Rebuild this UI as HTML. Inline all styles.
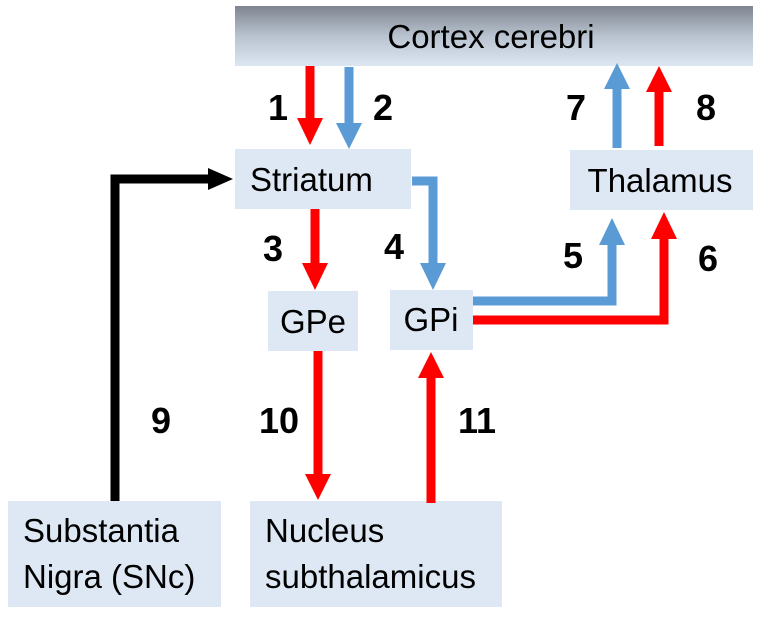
<!DOCTYPE html>
<html><head><style>body{margin:0;background:#fff}</style></head><body>
<svg width="758" height="621" viewBox="0 0 758 621" xmlns="http://www.w3.org/2000/svg" font-family="Liberation Sans, sans-serif">
<defs><linearGradient id="g" x1="0" y1="0" x2="0" y2="1"><stop offset="0" stop-color="#7e8590"/><stop offset="0.5" stop-color="#b9c3cf"/><stop offset="1" stop-color="#dde7f3"/></linearGradient></defs>
<rect x="235" y="6" width="518" height="60" fill="url(#g)"/>
<rect x="235" y="149" width="176" height="60" fill="#dde8f4"/>
<rect x="570" y="150" width="183" height="60" fill="#dde8f4"/>
<rect x="268" y="291" width="90" height="60" fill="#dde8f4"/>
<rect x="390" y="290" width="83" height="60" fill="#dde8f4"/>
<rect x="8" y="501" width="213" height="106" fill="#dde8f4"/>
<rect x="250" y="501" width="252" height="106" fill="#dde8f4"/>
<g font-size="33" fill="#000">
<text x="491" y="48" text-anchor="middle">Cortex cerebri</text>
<text x="250" y="191">Striatum</text>
<text x="660" y="192" text-anchor="middle">Thalamus</text>
<text x="313" y="333" text-anchor="middle">GPe</text>
<text x="431" y="331" text-anchor="middle">GPi</text>
<text x="23" y="542">Substantia</text>
<text x="23" y="588">Nigra (SNc)</text>
<text x="265" y="542">Nucleus</text>
<text x="265" y="588">subthalamicus</text>
</g>
<g font-size="36" font-weight="bold" fill="#000" text-anchor="middle">
<text x="278" y="120">1</text><text x="383" y="120">2</text><text x="576" y="120">7</text><text x="706" y="120">8</text>
<text x="273" y="261">3</text><text x="394" y="259">4</text><text x="573" y="268">5</text><text x="708" y="271">6</text>
<text x="161" y="433">9</text><text x="279" y="433">10</text><text x="477" y="433">11</text>
</g>
<g fill="none" stroke-width="9">
<line x1="310" y1="66" x2="310" y2="120" stroke="#f00"/>
<line x1="349" y1="67" x2="349" y2="124" stroke="#5b9bd5"/>
<line x1="617" y1="148" x2="617" y2="85" stroke="#5b9bd5"/>
<line x1="659" y1="146" x2="659" y2="88" stroke="#f00"/>
<line x1="315" y1="209" x2="315" y2="265" stroke="#f00"/>
<polyline points="412,181 433,181 433,265" stroke="#5b9bd5"/>
<polyline points="473,301 612,301 612,240" stroke="#5b9bd5"/>
<polyline points="473,320 664,320 664,234" stroke="#f00"/>
<polyline points="115,501 115,179 212,179" stroke="#000"/>
<line x1="318" y1="351" x2="318" y2="476" stroke="#f00"/>
<line x1="431" y1="503" x2="431" y2="375" stroke="#f00"/>
</g>
<g>
<polygon points="297,118 323,118 310,145" fill="#f00"/>
<polygon points="336,123 362,123 349,149" fill="#5b9bd5"/>
<polygon points="604,89 630,89 617,63" fill="#5b9bd5"/>
<polygon points="646,92 672,92 659,66" fill="#f00"/>
<polygon points="302,263 328,263 315,290" fill="#f00"/>
<polygon points="420,263 446,263 433,290" fill="#5b9bd5"/>
<polygon points="599,245 625,245 612,218" fill="#5b9bd5"/>
<polygon points="651,239 677,239 664,212" fill="#f00"/>
<polygon points="208,168 208,190 233,179" fill="#000"/>
<polygon points="305,474 331,474 318,500" fill="#f00"/>
<polygon points="418,378 444,378 431,352" fill="#f00"/>
</g>
</svg>
</body></html>
